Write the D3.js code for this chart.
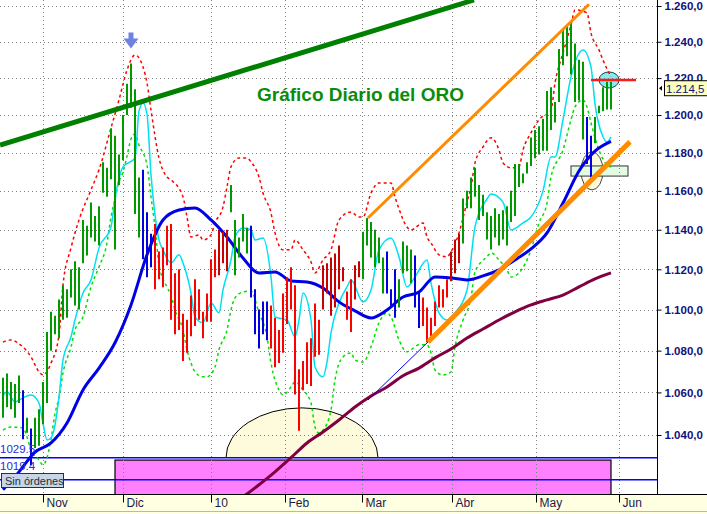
<!DOCTYPE html>
<html>
<head>
<meta charset="utf-8">
<script src="https://cdn.jsdelivr.net/npm/d3@7"></script>
<style>
body { margin: 0; background: #fff; }
svg { display: block; }
text { font-family: "Liberation Sans", Arial, sans-serif; }
</style>
</head>
<body>
<div id="chart"></div>
<script>
// Oro diario, oct 2009 - may 2010

var months = ["Nov", "Dic", "10", "Feb", "Mar", "Abr", "May", "Jun"];
var monthAt = [10, 30, 52, 70.5, 89.75, 112.25, 133.25, 154];
var priceTicks = [1040, 1060, 1080, 1100, 1120, 1140, 1160, 1180, 1200, 1220, 1240, 1260];

var high = [1067,1069,1065,1064,1068,1061,1048,1043,1048,1052,
	1065,1089,1099,1097,1105,1112,1110,1120,1124,1121,
	1145,1142,1154,1147,1152,1175,1172,1193,1189,1179,
	1200,1217,1228,1214,1167,1171,1149,1138,1143,1129,
	1131,1142,1143,1118,1120,1098,1095,1107,1115,1110,
	1099,1108,1125,1130,1140,1139,1140,1163,1145,1136,
	1148,1141,1142,1110,1100,1104,1104,1102,1096,1090,
	1108,1116,1121,1112,1071,1075,1084,1086,1103,1095,
	1122,1123,1126,1128,1132,1121,1109,1115,1122,1124,
	1139,1146,1144,1140,1136,1126,1129,1110,1120,1115,
	1134,1132,1130,1127,1109,1106,1101,1096,1104,1112,
	1110,1115,1129,1135,1138,1156,1160,1167,1172,1163,
	1158,1149,1147,1151,1148,1150,1152,1160,1174,1174,
	1169,1175,1188,1192,1194,1198,1213,1215,1207,1236,
	1247,1249,1251,1239,1230,1229,1199,1189,1199,1205,
	1215,1218,1218];

var low = [1048,1053,1052,1048,1055,1038,1041,1026,1034,1035,
	1045,1055,1080,1088,1086,1095,1096,1106,1102,1100,
	1123,1127,1136,1134,1132,1159,1157,1166,1130,1163,
	1176,1200,1204,1148,1136,1125,1116,1121,1110,1115,
	1111,1122,1095,1088,1090,1075,1079,1087,1092,1095,
	1086,1094,1094,1116,1117,1123,1119,1149,1117,1126,
	1134,1128,1106,1088,1081,1088,1085,1081,1072,1074,
	1079,1093,1100,1059,1042,1061,1064,1063,1077,1078,
	1100,1108,1097,1101,1110,1114,1095,1089,1105,1116,
	1115,1132,1126,1121,1123,1108,1108,1101,1096,1101,
	1118,1119,1113,1101,1091,1092,1084,1087,1092,1101,
	1101,1106,1114,1118,1123,1133,1151,1151,1157,1145,
	1147,1135,1130,1136,1132,1135,1132,1144,1147,1162,
	1164,1169,1173,1177,1179,1181,1181,1192,1196,1207,
	1227,1232,1222,1207,1208,1187,1174,1167,1185,1201,
	1202,1203,1203];

// g = alcista, r = bajista, d = bajista debil, b = neutral
var barState = ("gggggbgbgg" + "ggggggggggggggggggggggggg" + "bbb" + "rrrrrrrrrrrrrrrr" +
	"ddd" + "ggggg" + "bbbbb" + "rrrrrrrrrrrrr" + "dddddd" + "rr" + "dd" + "gggggg" +
	"bbb" + "gggg" + "bb" + "rrrrrrr" + "ddd" + "ggggggggggggggggggggggggggggggg" +
	"bb" + "ggggg").split("");

// medias y bandas: [indice de barra, precio]
var maShort = [[0,1058.4],[1,1060.3],[3,1055.5],[4,1056.4],[7,1058.8],[9,1055.0],[10,1045.6],[11,1037.7],
	[12,1038.6],[13,1044.7],[14,1057.9],[15,1075.5],[17,1086.7],[18,1094.9],[20,1108.2],[22,1114.7],
	[24,1130.8],[27,1141.4],[28,1155.8],[30,1172.5],[33,1177.2],[34,1202.1],[35,1206.5],[36,1200.6],
	[37,1168.3],[38,1147.6],[39,1134.8],[40,1129.8],[42,1123.2],[44,1127.3],[45,1123.2],[47,1108.2],
	[48,1096.4],[50,1093.5],[52,1103.3],[54,1098.4],[55,1109.7],[57,1124.7],[58,1136.3],[60,1140.9],
	[62,1139.9],[63,1134.8],[65,1135.8],[67,1116.2],[68,1096.4],[71,1094.9],[73,1086.7],[74,1094.9],
	[75,1108.2],[77,1094.9],[78,1072.1],[80,1067.4],[81,1074.5],[82,1088.6],[84,1103.3],[86,1111.2],
	[87,1114.7],[90,1103.8],[92,1109.7],[94,1129.8],[97,1135.8],[99,1126.3],[101,1111.2],[103,1116.2],
	[106,1124.7],[107,1113.2],[109,1098.4],[111,1094.9],[113,1098.4],[116,1109.7],[118,1141.4],
	[121,1155.8],[122,1158.4],[125,1154.2],[127,1139.9],[130,1143.5],[132,1146.5],[135,1160.0],
	[137,1177.7],[138,1177.7],[140,1197.5],[142,1220.7],[145,1235.5],[147,1226.1],[148,1206.0],
	[150,1188.4],[151,1185.7],[152,1188.4]];

var maMid = [[0,1014.8],[4,1023.0],[8,1032.1],[12,1036.3],[16,1045.6],[20,1061.2],[24,1071.6],
	[28,1083.8],[32,1102.3],[36,1127.3],[40,1145.0],[44,1150.1],[48,1151.2],[52,1145.0],[56,1136.3],
	[60,1125.7],[64,1118.2],[68,1118.7],[72,1114.2],[76,1113.7],[80,1110.7],[84,1103.8],[88,1099.4],
	[92,1095.9],[96,1099.8],[100,1106.2],[104,1108.7],[108,1116.2],[112,1115.7],[116,1114.7],
	[120,1116.7],[124,1119.7],[128,1124.7],[132,1130.3],[136,1138.4],[140,1153.7],[144,1170.4],
	[148,1180.8],[152,1186.0]];

var maLong = [[60,1011.6],[64,1017.1],[68,1023.0],[72,1029.5],[76,1036.3],[80,1041.4],[84,1047.0],
	[88,1053.1],[92,1058.3],[96,1062.6],[100,1067.9],[104,1071.6],[108,1076.5],[112,1080.8],
	[116,1086.1],[120,1090.5],[124,1094.9],[128,1098.9],[132,1102.3],[136,1104.8],[140,1107.2],
	[144,1111.2],[148,1115.2],[152,1118.2]];

var bandUp = [[0,1084.2],[2,1085.2],[4,1083.3],[7,1077.0],[9,1069.8],[10,1068.3],[12,1074.0],
	[14,1087.6],[15,1112.2],[17,1130.8],[19,1145.0],[22,1160.5],[24,1171.0],[27,1193.1],[29,1208.2],
	[31,1224.4],[33,1232.7],[35,1226.1],[36,1217.3],[37,1202.7],[39,1177.2],[41,1167.2],[42,1165.7],
	[45,1156.9],[46,1146.5],[47,1136.3],[49,1137.4],[50,1134.8],[52,1137.4],[53,1143.5],[55,1151.7],
	[56,1162.0],[57,1172.5],[59,1177.2],[61,1177.2],[62,1175.1],[64,1167.2],[65,1158.9],[67,1148.6],
	[68,1138.4],[70,1129.8],[72,1129.8],[73,1134.8],[75,1129.8],[77,1123.7],[78,1118.2],[80,1124.7],
	[82,1129.8],[84,1145.0],[87,1149.1],[89,1146.5],[90,1146.5],[92,1158.9],[94,1164.1],[97,1164.1],
	[98,1156.9],[99,1150.7],[101,1141.4],[102,1139.9],[105,1143.5],[106,1136.3],[107,1133.3],
	[109,1127.3],[111,1126.3],[112,1128.8],[114,1138.4],[116,1154.2],[117,1162.0],[118,1174.6],
	[120,1183.0],[122,1187.9],[124,1181.4],[125,1174.6],[127,1172.0],[129,1172.5],[130,1181.4],
	[132,1190.5],[134,1197.5],[137,1202.7],[138,1217.3],[140,1233.8],[142,1249.4],[143,1257.8],
	[146,1256.1],[147,1244.9],[149,1235.5],[150,1229.9],[152,1220.7]];

var bandDn = [[0,1042.3],[2,1043.7],[5,1043.3],[6,1039.1],[7,1033.1],[9,1028.5],[10,1026.2],
	[11,1029.5],[12,1038.0],[13,1050.0],[14,1057.5],[15,1069.3],[17,1081.8],[18,1090.0],[20,1096.4],
	[22,1111.2],[24,1121.2],[26,1133.3],[27,1146.5],[28,1155.8],[29,1164.6],[30,1169.8],[31,1178.2],
	[32,1187.2],[33,1189.9],[34,1184.0],[36,1173.5],[37,1156.9],[38,1141.4],[39,1122.2],[41,1111.2],
	[42,1107.2],[43,1099.8],[45,1090.0],[46,1080.4],[47,1074.0],[48,1069.8],[50,1067.4],[51,1067.4],
	[53,1072.1],[54,1080.4],[56,1090.0],[57,1099.8],[58,1105.8],[60,1108.7],[62,1109.2],[64,1098.4],
	[66,1086.7],[67,1074.0],[69,1061.2],[70,1058.8],[72,1062.6],[73,1065.0],[75,1061.2],[77,1055.0],
	[78,1043.7],[79,1040.9],[80,1042.3],[82,1051.7],[83,1066.0],[85,1077.0],[87,1078.9],[88,1075.5],
	[90,1074.5],[92,1081.8],[94,1093.5],[96,1098.4],[97,1096.4],[99,1085.2],[101,1079.4],[102,1080.4],
	[104,1082.8],[106,1082.8],[107,1078.9],[108,1070.7],[110,1068.3],[112,1069.8],[113,1081.8],
	[115,1094.9],[117,1105.8],[118,1118.7],[121,1126.3],[122,1128.3],[124,1124.7],[126,1119.7],
	[127,1116.2],[129,1118.2],[132,1129.8],[134,1143.5],[136,1153.7],[137,1167.2],[140,1181.4],
	[142,1197.5],[143,1204.4],[145,1208.2],[146,1204.4],[147,1195.8],[149,1181.4],[151,1173.5],
	[152,1172.5]];

// niveles y lineas de tendencia dibujadas a mano
var levels = [1029.5, 1019.4];
var levelNames = ["1029.5", "1019.4"];
var lastPrice = 1214.5;
var trendGreen = [[-0.75, 1184.0], [117.75, 1263.4]];
var channelTop = [[91.25, 1146.0], [146.5, 1261.0]];
var channelBottom = [[106.25, 1084.2], [156.75, 1185.7]];
var channelBack = [[91.25, 1056.4], [106.25, 1084.2]];
var target = [[147, 1219.0], [158.25, 1219.0]];

var W = 707, H = 514, plotR = 657, plotB = 494;

var x = d3.scaleLinear().domain([0, 152]).range([3, 611]);
var y = d3.scaleLog().domain([1040, 1260]).range([435, 6]);

var es = d3.formatLocale({decimal: ",", thousands: ".", grouping: [3], currency: ["", ""]});
var fmt = es.format(",.1f");

var svg = d3.select("#chart").append("svg")
	.attr("width", W)
	.attr("height", H);

svg.append("rect").attr("width", W).attr("height", H).attr("fill", "#fff");

svg.append("defs").append("clipPath")
	.attr("id", "plot")
	.append("rect")
	.attr("x", 0).attr("y", 0)
	.attr("width", plotR).attr("height", plotB);

var g = svg.append("g").attr("clip-path", "url(#plot)");

// zonas de fondo
g.append("rect")
	.attr("x", x(28)).attr("y", y(1028.4))
	.attr("width", x(152) - x(28)).attr("height", plotB + 4 - y(1028.4))
	.attr("fill", "#ff80ff").attr("stroke", "#000").attr("stroke-width", 1.2);

var cx = x(74.75), rx = x(93.75) - x(74.75), yb = y(levels[0]), ry = yb - y(1052.7);
g.append("path")
	.attr("d", "M" + (cx - rx) + "," + yb + " A" + rx + "," + ry + " 0 0 1 " + (cx + rx) + "," + yb)
	.attr("fill", "#fdfbdc").attr("stroke", "#000").attr("stroke-width", 1);

g.append("ellipse")
	.attr("cx", x(147.25)).attr("cy", y(1170.4))
	.attr("rx", 11).attr("ry", 19)
	.attr("fill", "#fdfbdc").attr("stroke", "#444");

g.append("rect")
	.attr("x", x(142)).attr("y", y(1173))
	.attr("width", x(156.25) - x(142)).attr("height", y(1167.7) - y(1173))
	.attr("fill", "#e2fbe2").attr("stroke", "#333");

g.append("ellipse")
	.attr("cx", x(151.5)).attr("cy", y(1219))
	.attr("rx", 10).attr("ry", 8)
	.attr("fill", "#86eef2").attr("stroke", "#1a4040");

// rejilla
g.selectAll(".hgrid").data(priceTicks).enter().append("line")
	.attr("x1", 0).attr("x2", plotR)
	.attr("y1", function(d) { return Math.round(y(d)) + 0.5; })
	.attr("y2", function(d) { return Math.round(y(d)) + 0.5; })
	.attr("stroke", "#808080").attr("stroke-dasharray", "1,3");

g.selectAll(".vgrid").data(monthAt).enter().append("line")
	.attr("x1", function(d) { return Math.round(x(d)) + 0.5; })
	.attr("x2", function(d) { return Math.round(x(d)) + 0.5; })
	.attr("y1", 0).attr("y2", plotB)
	.attr("stroke", "#808080").attr("stroke-dasharray", "1,3");

// niveles horizontales
g.selectAll(".level").data(levels).enter().append("line")
	.attr("x1", 0).attr("x2", plotR)
	.attr("y1", function(d) { return y(d); })
	.attr("y2", function(d) { return y(d); })
	.attr("stroke", "#0000ff").attr("stroke-width", 1.5);

var line = d3.line()
	.x(function(d) { return x(d[0]); })
	.y(function(d) { return y(d[1]); })
	.curve(d3.curveMonotoneX);

function drawLine(dat, color, width, dash) {
	var p = g.append("path").datum(dat)
		.attr("d", line)
		.attr("fill", "none")
		.attr("stroke", color)
		.attr("stroke-width", width);
	if (dash) p.attr("stroke-dasharray", dash);
	return p;
}

drawLine(bandUp, "#ff0000", 1.5, "3,3");
drawLine(bandDn, "#00e000", 1.5, "3,3");
drawLine(maShort, "#00e0f2", 1.5);
drawLine(maLong, "#800040", 3);
drawLine(maMid, "#0000e6", 3);

// barras
var barColor = {g: "#009a00", r: "#ff0000", d: "#c80000", b: "#0000e0"};
g.selectAll(".bar").data(high).enter().append("line")
	.attr("x1", function(d, i) { return x(i); })
	.attr("x2", function(d, i) { return x(i); })
	.attr("y1", function(d) { return y(d); })
	.attr("y2", function(d, i) { return y(low[i]); })
	.attr("stroke", function(d, i) { return barColor[barState[i]]; })
	.attr("stroke-width", 2);

// tendencias
var straight = d3.line()
	.x(function(d) { return x(d[0]); })
	.y(function(d) { return y(d[1]); });

g.append("path").datum(trendGreen).attr("d", straight)
	.attr("stroke", "#008000").attr("stroke-width", 5).attr("fill", "none");
g.append("path").datum(channelBack).attr("d", straight)
	.attr("stroke", "#0000ff").attr("stroke-width", 1).attr("fill", "none");
g.append("path").datum(channelTop).attr("d", straight)
	.attr("stroke", "#ff8c00").attr("stroke-width", 3).attr("fill", "none");
g.append("path").datum(channelBottom).attr("d", straight)
	.attr("stroke", "#ff8c00").attr("stroke-width", 5).attr("fill", "none");
g.append("path").datum(target).attr("d", straight)
	.attr("stroke", "#ff1a1a").attr("stroke-width", 2.5).attr("fill", "none");

// flecha sobre el maximo de diciembre
var ax = x(32), ay = y(high[32]) - 31;
g.append("path")
	.attr("d", "M" + (ax - 2.5) + "," + ay + "h5v6h5l-7.5,10l-7.5,-10h5z")
	.attr("fill", "#6f82e4");

// titulo
svg.append("text")
	.attr("x", 257).attr("y", 101)
	.attr("font-size", 19).attr("font-weight", "bold")
	.attr("fill", "#0b8c0b")
	.text("Gráfico Diario del ORO");

// etiquetas de niveles
svg.selectAll(".lvlab").data(levels).enter().append("text")
	.attr("x", 0).attr("y", function(d, i) { return y(d) - (i ? 10 : 5); })
	.attr("font-size", 11.5).attr("fill", "#2a2ae0")
	.text(function(d, i) { return levelNames[i]; });

svg.append("rect")
	.attr("x", 1.5).attr("y", 473.5).attr("width", 62).attr("height", 14)
	.attr("fill", "#c6d6e6").attr("stroke", "#303030");
svg.append("text")
	.attr("x", 5).attr("y", 485)
	.attr("font-size", 11).attr("fill", "#1e2e40")
	.text("Sin órdenes");

// eje de precios
var yAxis = d3.axisRight(y).tickValues(priceTicks).tickSize(4).tickPadding(3).tickFormat(fmt);
var ya = svg.append("g").attr("transform", "translate(" + (plotR + 0.5) + ",0)").call(yAxis);
ya.select(".domain").remove();
ya.selectAll("text")
	.attr("font-family", "'Liberation Sans', Arial, sans-serif")
	.attr("font-size", 11.5).attr("font-weight", "bold").attr("fill", "#10107a");
ya.selectAll("line").attr("stroke", "#000");
svg.append("line")
	.attr("x1", plotR + 0.5).attr("x2", plotR + 0.5)
	.attr("y1", 0).attr("y2", plotB)
	.attr("stroke", "#000");

// ultimo precio
var ly = y(lastPrice);
svg.append("rect")
	.attr("x", 664.5).attr("y", ly - 7.5).attr("width", 44).attr("height", 15)
	.attr("fill", "#ffffc0").attr("stroke", "#000");
svg.append("text")
	.attr("x", 666).attr("y", ly + 4.5)
	.attr("font-size", 11.5).attr("fill", "#10107a")
	.text(fmt(lastPrice));
svg.append("path")
	.attr("d", "M659," + ly + "l3,-2.5v5z")
	.attr("fill", "#000");

// eje de fechas
svg.append("rect")
	.attr("x", 0).attr("y", plotB).attr("width", W).attr("height", H - plotB)
	.attr("fill", "#ffffe1");
var xAxis = d3.axisBottom(x).tickValues(monthAt).tickSize(8).tickPadding(0)
	.tickFormat(function(d, i) { return months[i]; });
var xa = svg.append("g").attr("transform", "translate(0," + (plotB + 0.5) + ")").call(xAxis);
xa.select(".domain").remove();
xa.selectAll("line").attr("stroke", "#000");
xa.selectAll("text")
	.attr("text-anchor", "start").attr("dx", 3).attr("y", 4).attr("dy", "0.71em")
	.attr("font-family", "'Liberation Sans', Arial, sans-serif")
	.attr("font-size", 12).attr("fill", "#1a1a50");
svg.append("line")
	.attr("x1", 0).attr("x2", W)
	.attr("y1", plotB + 0.5).attr("y2", plotB + 0.5)
	.attr("stroke", "#000");
svg.append("line")
	.attr("x1", 0).attr("x2", W)
	.attr("y1", 511.5).attr("y2", 511.5)
	.attr("stroke", "#b8b8b8");
</script>
</body>
</html>
